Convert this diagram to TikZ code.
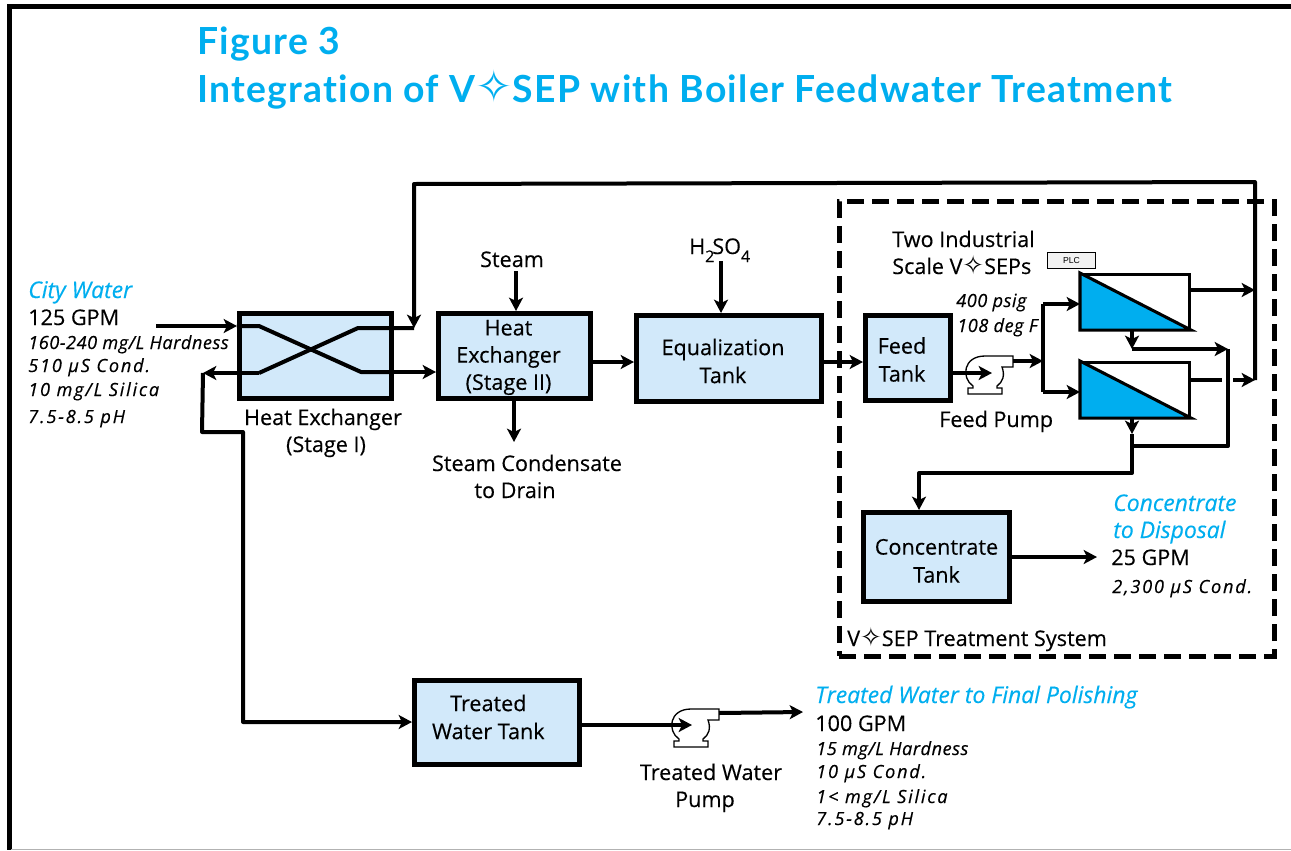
\documentclass[tikz,border=0pt]{standalone}
\usepackage{fontspec}
\usepackage{xcolor}
\usetikzlibrary{arrows.meta}
\setmainfont[FakeBold=0.3]{Open Sans}
\newfontfamily\titlefont[LetterSpace=3.4,Ligatures=NoCommon]{Lato}
\newfontfamily\starfont[Scale=1.2]{DejaVu Sans}
\newfontfamily\specfont[LetterSpace=3,FakeBold=0.4]{Open Sans}
\newfontfamily\specwidefont[LetterSpace=10,FakeBold=0.4]{Open Sans}
\newfontfamily\plcfont{Liberation Sans}
\definecolor{tankblue}{HTML}{D2E9FA}
\definecolor{headblue}{HTML}{00AEEF}
\def\px{0.75pt}
\newcommand{\vstar}{{\starfont\char"2727}}
\newcommand{\tanklabel}[3]{\hspace*{#1}\raisebox{#2}[\height][\depth]{\begin{tabular}{@{}c@{}}#3\end{tabular}}}
\tikzset{
  flow/.style={line width=3pt,line join=round},
  flowto/.style={flow,-{Stealth[length=10pt,width=10.5pt,inset=2.5pt]}},
  tankbox/.style={draw,line width=3.4pt,fill=tankblue,inner sep=0pt,font=\fontsize{16.2}{21}\selectfont},
  vsepbox/.style={draw,line width=2.3pt,fill=white,inner sep=0pt,minimum width=108*\px,minimum height=54*\px},
  plain/.style={anchor=base west,inner sep=0pt,font=\fontsize{16.2}{19}\selectfont},
  plainc/.style={plain,anchor=base},
  spec/.style={anchor=base west,inner sep=0pt,font=\fontsize{13.6}{15}\selectfont\specfont\itshape},
  specwide/.style={spec,font=\fontsize{13.6}{15}\selectfont\specwidefont\itshape},
  head/.style={anchor=base west,inner sep=0pt,text=headblue,font=\fontsize{17.2}{19}\selectfont\itshape},
  pumpshape/.pic={
    \draw[line width=1pt,fill=white] (-12,13) .. controls (-24,5) and (-22,-17) .. (0,-17) -- (28,-17) -- (28,-6) -- (17,-6) .. controls (20,2) and (18,9) .. (12,13) -- (12,15) -- (17,15) -- (17,21) -- (-17,21) -- (-17,15) -- (-12,15) -- cycle;
  }
}
\begin{document}
\begin{tikzpicture}[x=\px,y=-\px]
\useasboundingbox (0,0) rectangle (1291,850);
\draw[line width=3.75pt] (1291,6)--(9,6)--(9,850);
\draw[line width=1pt,gray!60] (11,849.5)--(1291,849.5);
\node[anchor=base west,inner sep=0pt,text=headblue,font=\fontsize{28}{34}\selectfont\bfseries\titlefont] (figtitle) at (197,54) {Figure 3};
\node[anchor=base west,inner sep=0pt,text=headblue,font=\fontsize{28}{34}\selectfont\bfseries\titlefont] (figsubtitle) at (197,102) {Integration of V\vstar SEP with Boiler Feedwater Treatment};
% treatment system frame
\node[draw,dash pattern=on 12.75pt off 6pt,line width=3.75pt,inner sep=0pt,minimum width=435*\px,minimum height=455*\px] (sysbox) at (1056.5,428.5) {};
% tanks
\node[tankbox,minimum width=152.5*\px,minimum height=85.5*\px] (hxone) at (315.5,356) {};
\node[tankbox,minimum width=152.5*\px,minimum height=85.5*\px] (hxtwo) at (514.5,356) {\tanklabel{-9pt}{-0.75pt}{Heat\\[-0.6pt]Exchanger\\[-0.6pt](Stage II)}};
\node[tankbox,minimum width=185.5*\px,minimum height=86.5*\px] (eqtank) at (729,358.5) {\tanklabel{-9pt}{-3.75pt}{Equalization\\Tank}};
\node[tankbox,minimum width=85.5*\px,minimum height=85.5*\px] (feedtank) at (908,358) {\tanklabel{-9pt}{-3pt}{Feed\\Tank}};
\node[tankbox,minimum width=146.5*\px,minimum height=89.5*\px] (conctank) at (936.5,557) {\tanklabel{0pt}{-4.5pt}{Concentrate\\Tank}};
\node[tankbox,minimum width=165.5*\px,minimum height=84.5*\px] (treatedtank) at (497,722.5) {\tanklabel{-13pt}{2.25pt}{Treated\\Water Tank}};
% membrane units
\node[vsepbox] (vsepone) at (1135.5,301.5) {};
\node[vsepbox] (vseptwo) at (1135.5,389.5) {};
\draw[line width=2.3pt,fill=headblue] (vsepone.north west)--(vsepone.south west)--(vsepone.south east)--cycle;
\draw[line width=2.3pt,fill=headblue] (vseptwo.north west)--(vseptwo.south west)--(vseptwo.south east)--cycle;
\node[draw,line width=1pt,fill=black!5,inner sep=0pt,minimum width=48*\px,minimum height=16*\px,font=\fontsize{6.5}{8}\selectfont\plcfont] (plcbox) at (1071.5,260.5) {PLC};
% pumps
\path (985,373) pic {pumpshape};
\path (691,726) pic {pumpshape};
% junction points
\coordinate (cityin) at (156,326);
\coordinate (crossa) at (259,326);
\coordinate (crossb) at (361,372);
\coordinate (crossc) at (358,328);
\coordinate (crossd) at (259,373);
\coordinate (hxstub) at (414,328);
\coordinate (returnend) at (203,373);
\coordinate (returnb) at (202,432);
\coordinate (returnc) at (243,432);
\coordinate (returnd) at (243,722);
\coordinate (toplink) at (414,184);
\coordinate (topright) at (1255,182);
\coordinate (joinlow) at (1255,380);
\coordinate (joinhigh) at (1255,290);
\coordinate (midline) at (0,362);
\coordinate (steamin) at (516,271);
\coordinate (acidin) at (721,261);
\coordinate (drainout) at (514,442);
\coordinate (feedmouth) at (992,373);
\coordinate (feedout) at (1013,361);
\coordinate (splitmid) at (1043,361);
\coordinate (splittop) at (1043,304);
\coordinate (splitbot) at (1043,392);
\coordinate (gapleft) at (1222,380);
\coordinate (gapright) at (1233,380);
\coordinate (brineone) at (1132,349);
\coordinate (brineright) at (1228,349);
\coordinate (brinelow) at (1228,446);
\coordinate (brinetee) at (1132,446);
\coordinate (brinetwo) at (1132,434);
\coordinate (brineout) at (1132,473);
\coordinate (brineleft) at (919,473);
\coordinate (dispose) at (1097,557);
\coordinate (treatedmouth) at (692,725);
\coordinate (treatedout) at (719,713);
\coordinate (treatedend) at (803,712);
% connectors
\draw[flowto] (cityin)--(hxone.west|-cityin);
\draw[flow] (hxone.west|-cityin)--(crossa)--(crossb)--(hxone.east|-crossb);
\draw[flowto] (hxone.east|-crossb)--(hxtwo.west|-crossb);
\draw[flow] (hxstub)--(crossc)--(crossd);
\draw[flowto] (crossd)--(returnend);
\draw[flowto] (returnend)--(returnb)--(returnc)--(returnd)--(treatedtank.west|-returnd);
\draw[flowto] (joinlow)--(topright)--(toplink)--(hxstub);
\draw[flowto] (steamin)--(hxtwo.north-|steamin);
\draw[flowto] (acidin)--(eqtank.north-|acidin);
\draw[flowto] (hxtwo.south-|drainout)--(drainout);
\draw[flowto] (hxtwo.east|-midline)--(eqtank.west|-midline);
\draw[flowto] (eqtank.east|-midline)--(feedtank.west|-midline);
\draw[flowto] (feedtank.east|-feedmouth)--(feedmouth);
\draw[flowto] (feedout)--(splitmid);
\draw[flow] (splittop)--(splitbot);
\draw[flowto] (splittop)--(vsepone.west|-splittop);
\draw[flowto] (splitbot)--(vseptwo.west|-splitbot);
\draw[flowto] (vsepone.east|-joinhigh)--(joinhigh);
\draw[flow] (vseptwo.east|-gapleft)--(gapleft);
\draw[flowto] (gapright)--(joinlow);
\draw[flowto] (vsepone.south-|brineone)--(brineone);
\draw[flowto] (brineone)--(brineright);
\draw[flow] (brineright)--(brinelow)--(brinetee);
\draw[flowto] (vseptwo.south-|brinetwo)--(brinetwo);
\draw[flowto] (brinetwo)--(brineout)--(brineleft)--(conctank.north-|brineleft);
\draw[flowto] (conctank.east|-dispose)--(dispose);
\draw[flowto] (treatedtank.east|-treatedmouth)--(treatedmouth);
\draw[flowto] (treatedout)--(treatedend);
% labels
\node[head] (cityhead) at (28,298) {City Water};
\node[plain] (cityflow) at (28,325) {125 GPM};
\node[spec] (cityhard) at (28,349) {160-240 mg/L Hardness};
\node[specwide] (citycond) at (28,372) {510 µS Cond.};
\node[specwide] (citysil) at (28,396) {10 mg/L Silica};
\node[specwide] (cityph) at (28,423) {7.5-8.5 pH};
\node[plainc] (hxonea) at (323,425) {Heat Exchanger};
\node[plainc] (hxoneb) at (326,452) {(Stage I)};
\node[plainc] (steamlabel) at (512,267) {Steam};
\node[plainc] (draina) at (527,471) {Steam Condensate};
\node[plainc] (drainb) at (515,498) {to Drain};
\node[plain] (acidlabel) at (689,254) {H\raisebox{-6pt}{\fontsize{12}{13}\selectfont 2}\kern-1.5pt SO\raisebox{-6pt}{\fontsize{12}{13}\selectfont 4}};
\node[plain] (scalea) at (892,247) {Two Industrial};
\node[plain] (scaleb) at (892,274) {Scale V\vstar SEPs};
\node[spec] (psiglabel) at (956,307) {400 psig};
\node[spec] (deglabel) at (957,332) {108 deg F};
\node[plain] (feedpump) at (939,427) {Feed Pump};
\node[head] (dispa) at (1113,511) {Concentrate};
\node[head] (dispb) at (1113,538) {to Disposal};
\node[plain] (dispflow) at (1111,565) {25 GPM};
\node[specwide] (dispcond) at (1112,593) {2,300 µS Cond.};
\node[plain] (syslabel) at (847,646) {V\vstar SEP Treatment System};
\node[plainc] (pumpa) at (711,780) {Treated Water};
\node[plainc] (pumpb) at (705,807) {Pump};
\node[head] (polhead) at (815,703) {Treated Water to Final Polishing};
\node[plain] (polflow) at (815,731) {100 GPM};
\node[spec] (polhard) at (816,755) {15 mg/L Hardness};
\node[specwide] (polcond) at (816,778) {10 µS Cond.};
\node[specwide] (polsil) at (816,803) {1< mg/L Silica};
\node[specwide] (polph) at (816,825) {7.5-8.5 pH};
\end{tikzpicture}
\end{document}
